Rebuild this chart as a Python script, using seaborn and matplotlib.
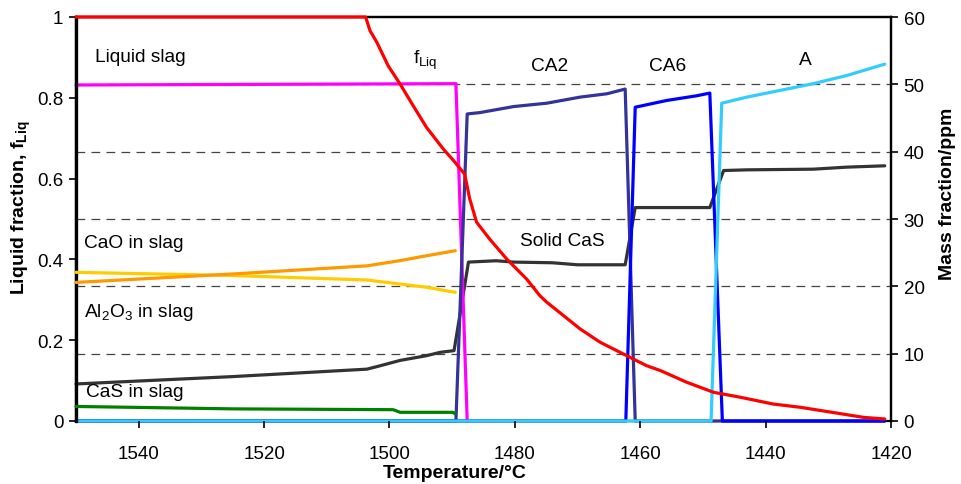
import matplotlib
matplotlib.use("Agg")
import matplotlib.pyplot as plt
import seaborn as sns
import numpy as np
import pandas as pd

# ---------------- data ----------------
# liquid fraction (left axis)
T_fliq = [1550, 1503.8, 1503.1, 1502.0, 1500.2, 1498.3, 1496.2, 1494.1, 1491.4, 1489.8,
          1488.0, 1487.2, 1486.1, 1484.0, 1481.3, 1478.1, 1476.0, 1474.9, 1469.6, 1466.4,
          1462.2, 1459.0, 1456.8, 1452.6, 1448.3, 1444.1, 1438.8, 1434.5, 1429.2, 1424.4, 1421.0]
fliq = [1.0, 1.0, 0.966, 0.937, 0.879, 0.834, 0.78, 0.727, 0.673, 0.645,
        0.611, 0.55, 0.492, 0.45, 0.401, 0.351, 0.31, 0.294, 0.228, 0.195,
        0.162, 0.137, 0.125, 0.096, 0.071, 0.059, 0.042, 0.034, 0.021, 0.009, 0.005]

# slag composition (left axis)
T_slag = [1550, 1524.9, 1503.6, 1498.3, 1494.1, 1489.5]
cao_slag = [0.343, 0.364, 0.384, 0.397, 0.409, 0.4215]
al2o3_slag = [0.368, 0.360, 0.349, 0.339, 0.331, 0.3185]
T_cas_slag = [1550, 1524.9, 1499.4, 1498.3, 1489.9, 1489.5]
cas_slag = [0.036, 0.030, 0.028, 0.0215, 0.0215, 0.0173]

# mass fractions in ppm (right axis)
T_liqslag = [1550, 1489.4, 1487.6]
liqslag = [49.9, 50.1, 0.0]
T_ca2 = [1550, 1489.4, 1487.6, 1485.6, 1480.2, 1474.9, 1469.6, 1465.3, 1462.4, 1460.8, 1421]
ca2 = [0, 0, 45.6, 45.8, 46.7, 47.2, 48.1, 48.6, 49.3, 0, 0]
T_ca6 = [1550, 1462.3, 1460.8, 1455.8, 1451.0, 1448.9, 1446.9, 1421]
ca6 = [0, 0, 46.6, 47.6, 48.3, 48.7, 0, 0]
T_a = [1550, 1448.7, 1447.0, 1443.0, 1437.7, 1432.4, 1427.1, 1421.0]
a_ppm = [0, 0, 47.2, 48.1, 49.1, 50.1, 51.3, 53.0]
T_solid_cas = [1550, 1524.9, 1503.6, 1501.5, 1498.3, 1494.1, 1491.9, 1489.7, 1488.7, 1487.4,
               1483.0, 1480.2, 1474.0, 1470.0, 1462.4, 1460.8, 1448.9, 1446.7, 1443.0,
               1432.4, 1427.1, 1421.0]
solid_cas = [5.5, 6.6, 7.7, 8.2, 9.0, 9.7, 10.2, 10.45, 16.1, 23.6,
             23.8, 23.6, 23.5, 23.2, 23.2, 31.7, 31.7, 37.2, 37.3,
             37.4, 37.7, 37.9]

x_ticks = [1540, 1520, 1500, 1480, 1460, 1440, 1420]
left_ticks = [0, 0.2, 0.4, 0.6, 0.8, 1]
left_ticklabels = ["0", "0.2", "0.4", "0.6", "0.8", "1"]
right_ticks = [0, 10, 20, 30, 40, 50, 60]

# ---------------- style ----------------
sns.set_style("ticks")
plt.rcParams["font.family"] = ["Liberation Sans", "DejaVu Sans"]
plt.rcParams["mathtext.fontset"] = "custom"
plt.rcParams["mathtext.rm"] = "Liberation Sans"
plt.rcParams["mathtext.it"] = "Liberation Sans"
plt.rcParams["mathtext.bf"] = "Liberation Sans:bold"
plt.rcParams["text.color"] = "black"
plt.rcParams["axes.labelcolor"] = "black"
plt.rcParams["xtick.color"] = "black"
plt.rcParams["ytick.color"] = "black"

fig = plt.figure(figsize=(9.61, 4.85), dpi=100)
ax = fig.add_axes([76 / 961, 63 / 485, 815 / 961, 404 / 485])
ax2 = ax.twinx()
ax.set_zorder(ax2.get_zorder() + 1)
ax.patch.set_visible(False)

LW = 2.3

def line(axis, x, y, color, z):
    df = pd.DataFrame({"T": x, "v": y})
    sns.lineplot(data=df, x="T", y="v", ax=axis, color=color, lw=LW,
                 sort=False, estimator=None, zorder=z, clip_on=False)

# right axis (ppm)
line(ax2, T_solid_cas, solid_cas, "#333333", 3)
line(ax2, T_liqslag, liqslag, "#ff00ff", 4)
line(ax2, T_ca2, ca2, "#333399", 5)
line(ax2, T_ca6, ca6, "#0000ff", 6)
line(ax2, T_a, a_ppm, "#33ccff", 7)

# left axis
line(ax, T_cas_slag, cas_slag, "#008000", 3)
line(ax, T_slag, al2o3_slag, "#ffcc00", 4)
line(ax, T_slag, cao_slag, "#ff9900", 5)
line(ax, T_fliq, fliq, "#ff0000", 6)

ax.set_xlim(1550, 1420)
ax.set_ylim(0, 1)
ax2.set_ylim(0, 60)
ax.set_xticks(x_ticks)
ax.set_xticklabels([str(t) for t in x_ticks])
ax.set_yticks(left_ticks)
ax.set_yticklabels(left_ticklabels)
ax2.set_yticks(right_ticks)

# dashed grid on ppm scale
for g in right_ticks[1:-1]:
    ax2.axhline(g, color="#444444", lw=0.9, ls=(0, (7, 5)), zorder=1)

for a_ in (ax, ax2):
    for s in a_.spines.values():
        s.set_color("black")
        s.set_linewidth(1.6)
    a_.tick_params(direction="out", length=5, width=1.2, colors="black",
                   labelsize=13.5, pad=4)
ax.spines["left"].set_linewidth(2.4)
ax.spines["bottom"].set_visible(False)
ax2.spines["bottom"].set_zorder(2)
ax.tick_params(axis="x", pad=12)

ax.set_xlabel("Temperature/°C", fontsize=14, fontweight="bold", va="center")
ax.set_ylabel(r"Liquid fraction, f$_{\mathbf{Liq}}$", fontsize=14, fontweight="bold",
              va="center", ha="center")
ax2.set_ylabel("Mass fraction/ppm", fontsize=14, fontweight="bold",
               va="center", ha="center")
ax.xaxis.set_label_coords(0.465, -0.127)
ax.yaxis.set_label_coords(-0.067, 0.53)
ax2.yaxis.set_label_coords(1.069, 0.565)

fs = 13.8
ax.text(1547.0, 0.903, "Liquid slag", fontsize=fs, va="center", ha="left")
ax.text(1494.3, 0.896, r"f$_{\mathrm{Liq}}$", fontsize=fs, va="center", ha="center")
ax.text(1474.5, 0.881, "CA2", fontsize=fs, va="center", ha="center")
ax.text(1455.7, 0.881, "CA6", fontsize=fs, va="center", ha="center")
ax.text(1433.7, 0.894, "A", fontsize=fs, va="center", ha="center")
ax.text(1548.7, 0.443, "CaO in slag", fontsize=fs, va="center", ha="left")
ax.text(1548.7, 0.272, r"Al$_2$O$_3$ in slag", fontsize=fs, va="center", ha="left")
ax.text(1548.4, 0.072, "CaS in slag", fontsize=fs, va="center", ha="left")
ax.text(1472.4, 0.446, "Solid CaS", fontsize=fs, va="center", ha="center")

fig.savefig("out.png", dpi=100)
